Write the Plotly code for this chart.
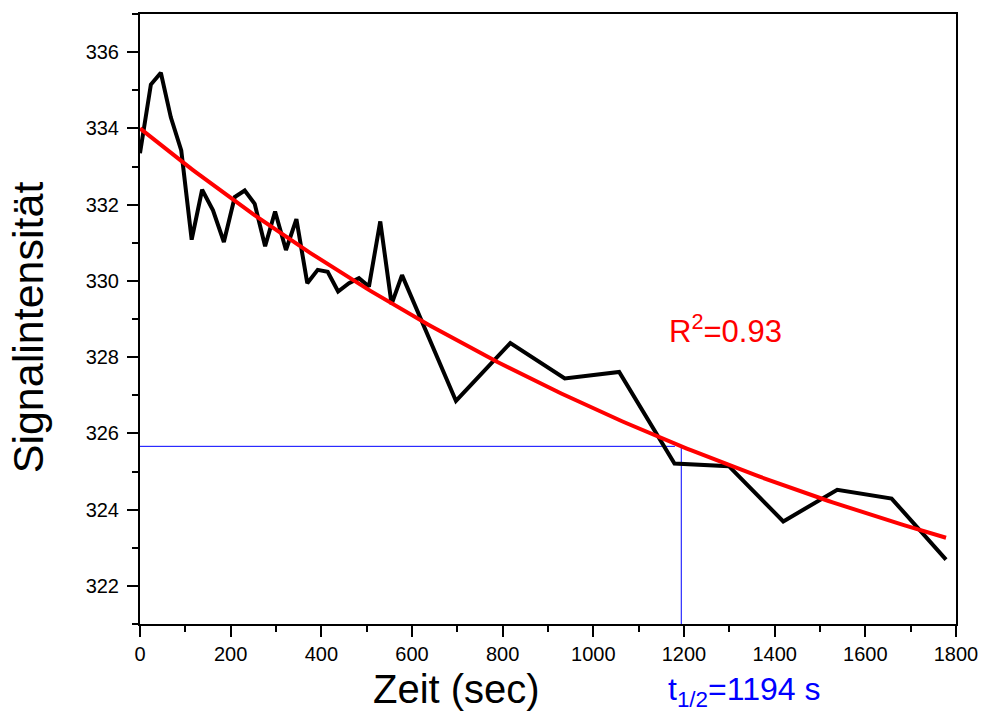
import numpy as np
import plotly.graph_objects as go

# Measured signal over time
zeit_s = [0, 24, 46, 68, 91, 114, 137, 161, 185, 209, 231, 253, 276, 298,
          322, 345, 369, 392, 414, 437, 461, 483, 505, 530, 555, 578,
          697, 817, 937, 1057, 1179, 1299, 1419, 1538, 1658, 1778]
signal = [333.35, 335.15, 335.46, 334.29, 333.42, 331.08, 332.39, 331.85,
          331.02, 332.20, 332.37, 332.02, 330.91, 331.82, 330.81, 331.62,
          329.94, 330.29, 330.24, 329.72, 329.94, 330.07, 329.85, 331.56,
          329.39, 330.15, 326.85, 328.37, 327.44, 327.61, 325.21, 325.14,
          323.69, 324.52, 324.29, 322.69]

# Exponential decay fit: y = offset + amplitude * 2^(-t / t_half)
fit_offset = 317.32
fit_amplitude = 16.68
t_half = 1194
r_squared = 0.93

x_ticks = [0, 200, 400, 600, 800, 1000, 1200, 1400, 1600, 1800]
y_ticks = [322, 324, 326, 328, 330, 332, 334, 336]

t_fit = np.linspace(0, zeit_s[-1], 200)
y_fit = fit_offset + fit_amplitude * np.power(2.0, -t_fit / t_half)
y_half = fit_offset + fit_amplitude / 2

FONT = "Liberation Sans, Arial, sans-serif"

fig = go.Figure()

# half-life guide lines
fig.add_trace(go.Scatter(x=[0, 1180], y=[y_half, y_half], mode="lines",
                         line=dict(color="#0000ff", width=1), hoverinfo="skip"))
fig.add_trace(go.Scatter(x=[t_half, t_half], y=[y_half, 321], mode="lines",
                         line=dict(color="#0000ff", width=1), hoverinfo="skip"))

fig.add_trace(go.Scatter(x=zeit_s, y=signal, mode="lines",
                         line=dict(color="black", width=4)))
fig.add_trace(go.Scatter(x=t_fit, y=y_fit, mode="lines",
                         line=dict(color="#ff0000", width=4)))

fig.add_annotation(x=1162, y=328.73, xref="x", yref="y", xanchor="left",
                   yanchor="middle", showarrow=False,
                   text=f"R<sup>2</sup>={r_squared:.2f}",
                   font=dict(family=FONT, size=31, color="#ff0000"))

fig.add_annotation(x=(672 - 140) / 826, y=-0.111, xref="paper", yref="paper",
                   xanchor="left", yanchor="middle", showarrow=False,
                   text=f"t<sub>1/2</sub>={t_half} s",
                   font=dict(family=FONT, size=32, color="#0000ff"))

fig.add_annotation(x=(460 - 140) / 826, y=-0.1062, xref="paper", yref="paper",
                   xanchor="center", yanchor="middle", showarrow=False,
                   text="Zeit (sec)",
                   font=dict(family=FONT, size=40, color="black"))

fig.add_annotation(x=(27 - 140) / 826, y=0.487, xref="paper", yref="paper",
                   xanchor="center", yanchor="middle", showarrow=False,
                   textangle=-90, text="Signalintensität",
                   font=dict(family=FONT, size=43, color="black"))

axis_common = dict(showgrid=False, zeroline=False, showline=True,
                   linecolor="black", linewidth=2, mirror=True,
                   ticks="outside", ticklen=11, tickwidth=2, tickcolor="black")

fig.update_xaxes(range=[0, 1800], tickvals=x_ticks, ticklabelstandoff=0,
                 tickfont=dict(family=FONT, size=20, color="black"),
                 minor=dict(dtick=100, ticks="outside", ticklen=6,
                            tickwidth=2, tickcolor="black", showgrid=False),
                 **axis_common)
fig.update_yaxes(range=[321, 337], tickvals=y_ticks, ticklabelstandoff=4,
                 tickfont=dict(family=FONT, size=20, color="black"),
                 minor=dict(dtick=1, ticks="outside", ticklen=6,
                            tickwidth=2, tickcolor="black", showgrid=False),
                 **axis_common)

fig.update_layout(width=990, height=713, showlegend=False,
                  margin=dict(l=140, r=24, t=12, b=89),
                  plot_bgcolor="white", paper_bgcolor="white")

fig.write_html("out.html")
